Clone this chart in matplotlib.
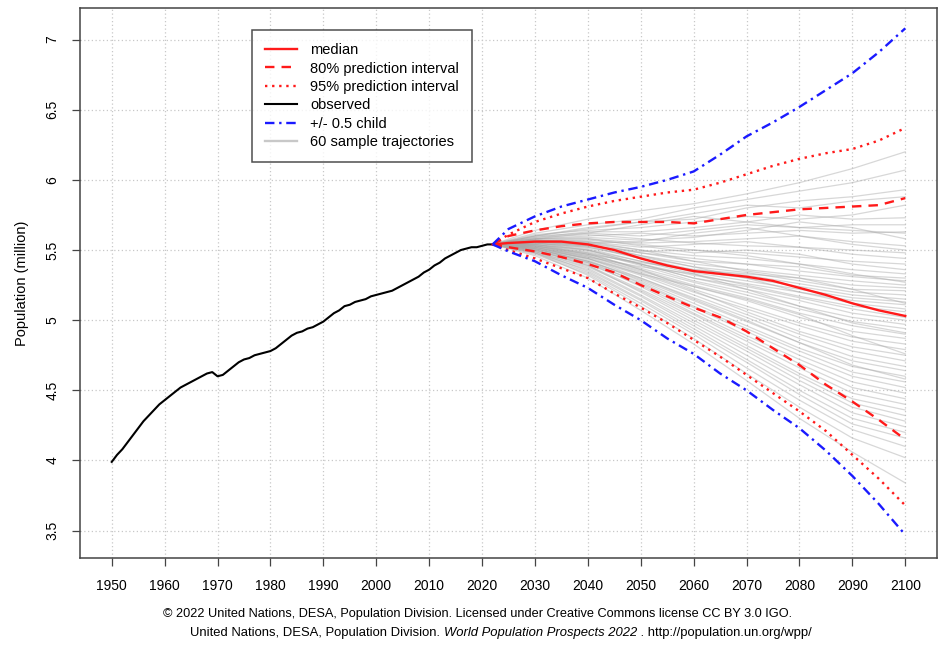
"""
Population projection, observed + probabilistic trajectories (UN WPP 2022 style)
"""
import matplotlib
matplotlib.use("Agg")
import matplotlib.pyplot as plt

plt.rcParams['font.family'] = ['Liberation Sans', 'DejaVu Sans']

# observed population (million), 1950-2022
OBS_YEARS = list(range(1950, 2023))
OBS_POP = [3.99, 4.04, 4.08, 4.13, 4.18, 4.23, 4.28, 4.32, 4.36, 4.40,
           4.43, 4.46, 4.49, 4.52, 4.54, 4.56, 4.58, 4.60, 4.62, 4.63,
           4.60, 4.61, 4.64, 4.67, 4.70, 4.72, 4.73, 4.75, 4.76, 4.77,
           4.78, 4.80, 4.83, 4.86, 4.89, 4.91, 4.92, 4.94, 4.95, 4.97,
           4.99, 5.02, 5.05, 5.07, 5.10, 5.11, 5.13, 5.14, 5.15, 5.17,
           5.18, 5.19, 5.20, 5.21, 5.23, 5.25, 5.27, 5.29, 5.31, 5.34,
           5.36, 5.39, 5.41, 5.44, 5.46, 5.48, 5.50, 5.51, 5.52, 5.52,
           5.53, 5.54, 5.54]

# summary lines, every 5 years from 2025 (2022 start added in front)
SUMMARY_YEARS = [2022, 2025, 2030, 2035, 2040, 2045, 2050, 2055, 2060, 2065,
                 2070, 2075, 2080, 2085, 2090, 2095, 2100]
MEDIAN = [5.54, 5.55, 5.56, 5.56, 5.54, 5.50, 5.44, 5.39, 5.35, 5.33,
          5.31, 5.28, 5.23, 5.18, 5.12, 5.07, 5.03]
PI80_UP = [5.54, 5.60, 5.64, 5.67, 5.69, 5.70, 5.70, 5.70, 5.69, 5.72,
           5.75, 5.77, 5.79, 5.80, 5.81, 5.82, 5.87]
PI80_LO = [5.54, 5.52, 5.49, 5.45, 5.40, 5.34, 5.25, 5.17, 5.09, 5.02,
           4.92, 4.80, 4.68, 4.54, 4.42, 4.29, 4.15]
PI95_UP = [5.54, 5.61, 5.70, 5.76, 5.81, 5.85, 5.88, 5.91, 5.93, 5.98,
           6.04, 6.10, 6.15, 6.19, 6.22, 6.28, 6.37]
PI95_LO = [5.54, 5.50, 5.44, 5.37, 5.30, 5.19, 5.09, 4.98, 4.86, 4.74,
           4.61, 4.48, 4.35, 4.21, 4.04, 3.87, 3.68]
HALF_CHILD_UP = [5.54, 5.65, 5.74, 5.81, 5.86, 5.91, 5.95, 6.00, 6.06, 6.18,
                 6.31, 6.41, 6.52, 6.64, 6.76, 6.91, 7.08]
HALF_CHILD_LO = [5.54, 5.49, 5.42, 5.32, 5.23, 5.11, 5.00, 4.87, 4.76, 4.62,
                 4.50, 4.36, 4.23, 4.07, 3.89, 3.69, 3.47]

# 60 sample trajectories, values for 2030..2100 by decade (start is the 2022 value)
TRAJ_YEARS = [2022, 2030, 2040, 2050, 2060, 2070, 2080, 2090, 2100]
TRAJECTORIES = [
    [5.64, 5.72, 5.78, 5.83, 5.90, 5.98, 6.08, 6.20],
    [5.62, 5.68, 5.72, 5.80, 5.86, 5.92, 5.98, 6.07],
    [5.60, 5.66, 5.70, 5.72, 5.80, 5.85, 5.88, 5.93],
    [5.61, 5.64, 5.66, 5.70, 5.74, 5.72, 5.75, 5.82],
    [5.59, 5.63, 5.63, 5.66, 5.70, 5.75, 5.72, 5.73],
    [5.60, 5.62, 5.60, 5.64, 5.68, 5.66, 5.68, 5.68],
    [5.58, 5.60, 5.62, 5.60, 5.62, 5.64, 5.62, 5.63],
    [5.58, 5.59, 5.57, 5.59, 5.64, 5.70, 5.66, 5.58],
    [5.57, 5.58, 5.55, 5.56, 5.58, 5.60, 5.56, 5.53],
    [5.59, 5.61, 5.58, 5.55, 5.53, 5.52, 5.50, 5.48],
    [5.57, 5.56, 5.52, 5.54, 5.56, 5.52, 5.47, 5.44],
    [5.56, 5.57, 5.54, 5.50, 5.48, 5.45, 5.42, 5.40],
    [5.58, 5.58, 5.53, 5.48, 5.50, 5.47, 5.40, 5.36],
    [5.56, 5.55, 5.50, 5.46, 5.44, 5.40, 5.36, 5.33],
    [5.57, 5.55, 5.48, 5.44, 5.40, 5.38, 5.32, 5.30],
    [5.55, 5.53, 5.48, 5.42, 5.40, 5.35, 5.31, 5.28],
    [5.56, 5.54, 5.46, 5.40, 5.36, 5.32, 5.28, 5.25],
    [5.57, 5.56, 5.50, 5.42, 5.35, 5.30, 5.25, 5.23],
    [5.55, 5.52, 5.45, 5.38, 5.34, 5.28, 5.22, 5.21],
    [5.56, 5.53, 5.44, 5.36, 5.32, 5.26, 5.20, 5.18],
    [5.54, 5.50, 5.42, 5.35, 5.30, 5.24, 5.18, 5.15],
    [5.55, 5.52, 5.44, 5.34, 5.28, 5.22, 5.16, 5.13],
    [5.56, 5.54, 5.46, 5.38, 5.30, 5.20, 5.14, 5.11],
    [5.54, 5.50, 5.40, 5.32, 5.26, 5.20, 5.12, 5.08],
    [5.55, 5.51, 5.42, 5.33, 5.25, 5.17, 5.10, 5.06],
    [5.53, 5.48, 5.40, 5.30, 5.24, 5.16, 5.08, 5.02],
    [5.55, 5.50, 5.40, 5.30, 5.22, 5.14, 5.05, 5.00],
    [5.54, 5.49, 5.39, 5.28, 5.20, 5.10, 5.02, 4.97],
    [5.53, 5.47, 5.37, 5.27, 5.18, 5.08, 4.99, 4.94],
    [5.54, 5.48, 5.36, 5.25, 5.16, 5.05, 4.96, 4.90],
    [5.52, 5.46, 5.35, 5.24, 5.14, 5.02, 4.92, 4.87],
    [5.53, 5.47, 5.36, 5.22, 5.10, 4.98, 4.88, 4.83],
    [5.52, 5.45, 5.33, 5.20, 5.08, 4.96, 4.85, 4.79],
    [5.53, 5.46, 5.34, 5.21, 5.06, 4.92, 4.81, 4.75],
    [5.51, 5.44, 5.32, 5.18, 5.04, 4.90, 4.78, 4.71],
    [5.52, 5.44, 5.30, 5.16, 5.02, 4.87, 4.74, 4.67],
    [5.51, 5.42, 5.29, 5.14, 4.99, 4.84, 4.71, 4.64],
    [5.52, 5.43, 5.28, 5.12, 4.96, 4.80, 4.67, 4.60],
    [5.50, 5.41, 5.27, 5.10, 4.94, 4.78, 4.63, 4.56],
    [5.51, 5.42, 5.26, 5.09, 4.92, 4.75, 4.60, 4.52],
    [5.50, 5.40, 5.25, 5.07, 4.89, 4.72, 4.56, 4.48],
    [5.51, 5.41, 5.24, 5.05, 4.87, 4.69, 4.52, 4.44],
    [5.50, 5.39, 5.22, 5.04, 4.85, 4.66, 4.48, 4.40],
    [5.49, 5.38, 5.21, 5.02, 4.82, 4.62, 4.44, 4.36],
    [5.50, 5.39, 5.20, 5.00, 4.80, 4.60, 4.41, 4.32],
    [5.49, 5.37, 5.18, 4.98, 4.78, 4.57, 4.38, 4.28],
    [5.48, 5.36, 5.17, 4.96, 4.75, 4.54, 4.34, 4.24],
    [5.49, 5.35, 5.15, 4.94, 4.72, 4.50, 4.30, 4.20],
    [5.48, 5.34, 5.14, 4.92, 4.70, 4.47, 4.26, 4.16],
    [5.47, 5.33, 5.12, 4.90, 4.66, 4.43, 4.22, 4.10],
    [5.48, 5.32, 5.10, 4.87, 4.62, 4.38, 4.16, 4.02],
    [5.46, 5.30, 5.07, 4.83, 4.57, 4.30, 4.06, 3.84],
    [5.60, 5.65, 5.70, 5.76, 5.82, 5.80, 5.85, 5.88],
    [5.58, 5.62, 5.68, 5.74, 5.70, 5.66, 5.64, 5.62],
    [5.57, 5.55, 5.56, 5.62, 5.66, 5.60, 5.54, 5.50],
    [5.56, 5.53, 5.49, 5.50, 5.46, 5.40, 5.33, 5.27],
    [5.54, 5.47, 5.41, 5.36, 5.33, 5.30, 5.22, 5.12],
    [5.53, 5.45, 5.38, 5.33, 5.22, 5.10, 4.98, 4.91],
    [5.52, 5.44, 5.33, 5.24, 5.15, 5.04, 4.89, 4.76],
    [5.51, 5.42, 5.30, 5.15, 5.00, 4.84, 4.68, 4.58],
]

X_TICKS = list(range(1950, 2101, 10))
Y_TICKS = [3.5, 4, 4.5, 5, 5.5, 6, 6.5, 7]
Y_TICK_LABELS = ["3.5", "4", "4.5", "5", "5.5", "6", "6.5", "7"]

RED = '#ff1a1a'
BLUE = '#1a1aff'
DASH = (0, (4, 3))
DOT = (0, (1, 2))
DOTDASH = (0, (4, 2, 1, 2))

fig = plt.figure(figsize=(9.38, 6.45), dpi=100)
ax = fig.add_axes([80 / 938, 87 / 645, 857 / 938, 550 / 645])

# sample trajectories first so everything else sits on top
start = OBS_POP[-1]
for traj in TRAJECTORIES:
    ax.plot(TRAJ_YEARS, [start] + traj, color='#a8a8a8', alpha=0.45, lw=0.9, zorder=2)

ax.plot(OBS_YEARS, OBS_POP, color='black', lw=1.5, zorder=4)
ax.plot(SUMMARY_YEARS, MEDIAN, color=RED, lw=1.7, zorder=5)
ax.plot(SUMMARY_YEARS, PI80_UP, color=RED, lw=1.7, ls=DASH, zorder=5)
ax.plot(SUMMARY_YEARS, PI80_LO, color=RED, lw=1.7, ls=DASH, zorder=5)
ax.plot(SUMMARY_YEARS, PI95_UP, color=RED, lw=1.7, ls=DOT, zorder=5)
ax.plot(SUMMARY_YEARS, PI95_LO, color=RED, lw=1.7, ls=DOT, zorder=5)
ax.plot(SUMMARY_YEARS, HALF_CHILD_UP, color=BLUE, lw=1.7, ls=DOTDASH, zorder=5)
ax.plot(SUMMARY_YEARS, HALF_CHILD_LO, color=BLUE, lw=1.7, ls=DOTDASH, zorder=5)

ax.set_xlim(1944, 2106)
ax.set_ylim(3.305, 7.225)
ax.set_xticks(X_TICKS)
ax.set_xticklabels([str(y) for y in X_TICKS], fontsize=10)
ax.set_yticks(Y_TICKS)
ax.set_yticklabels(Y_TICK_LABELS, fontsize=10, rotation=90, va='center')
ax.tick_params(length=6, width=0.9, color='#444444', pad=9)
ax.grid(True, color='#c8c8c8', ls=(0, (1, 2)), lw=0.9)
ax.set_axisbelow(True)
for sp in ax.spines.values():
    sp.set_color('#444444')
    sp.set_linewidth(1.1)
ax.set_ylabel("Population (million)", fontsize=10.5, labelpad=12)

# legend built from proxy lines
h = [
    plt.Line2D([], [], color=RED, lw=1.7),
    plt.Line2D([], [], color=RED, lw=1.7, ls=DASH),
    plt.Line2D([], [], color=RED, lw=1.7, ls=DOT),
    plt.Line2D([], [], color='black', lw=1.5),
    plt.Line2D([], [], color=BLUE, lw=1.7, ls=DOTDASH),
    plt.Line2D([], [], color='#c8c8c8', lw=1.7),
]
labels = ['median', '80% prediction interval', '95% prediction interval',
          'observed', '+/- 0.5 child', '60 sample trajectories']
leg = ax.legend(h, labels, loc='upper left', bbox_to_anchor=(0.2007, 0.96),
                fontsize=10.5, frameon=True, fancybox=False, handlelength=2.2,
                labelspacing=0.3, borderpad=0.9, handletextpad=0.9,
                borderaxespad=0)
leg.get_frame().set_edgecolor('#222222')
leg.get_frame().set_linewidth(1.1)
leg.set_zorder(10)

fig.text(478 / 938, 1 - 614 / 645,
         "\u00a9 2022 United Nations, DESA, Population Division. Licensed under Creative Commons license CC BY 3.0 IGO.",
         ha='center', va='center', fontsize=9.2)

# second caption line with an italic title in the middle, centred as a whole
fig.canvas.draw()
renderer = fig.canvas.get_renderer()
y2 = 1 - 633 / 645
parts = [("United Nations, DESA, Population Division. ", 'normal'),
         ("World Population Prospects 2022", 'italic'),
         (" . http://population.un.org/wpp/", 'normal')]
texts = []
for txt, style in parts:
    texts.append(fig.text(0, y2, txt, ha='left', va='center', fontsize=9.4, style=style))
widths = [t.get_window_extent(renderer=renderer).width / fig.bbox.width for t in texts]
x0 = 501 / 938 - sum(widths) / 2
for t, w in zip(texts, widths):
    t.set_x(x0)
    x0 += w

fig.savefig("out.png", dpi=100)
